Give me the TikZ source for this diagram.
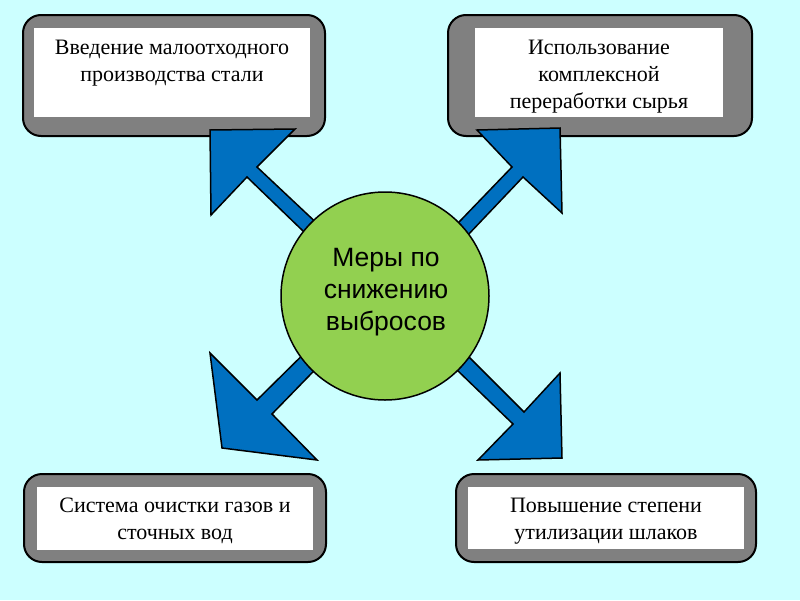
\documentclass[tikz,border=0pt]{standalone}
\usepackage{fontspec}
\setmainfont{Liberation Serif}
\newfontfamily\circfont{Liberation Sans}
\definecolor{bgc}{HTML}{CCFFFF}
\definecolor{greyc}{HTML}{808080}
\definecolor{bluec}{HTML}{0070C0}
\definecolor{greenc}{HTML}{92D050}
\tikzset{
  outerbox/.style={draw=black, line width=2pt, fill=greyc, rounded corners=18pt, inner sep=0pt},
  innerbox/.style={fill=white, draw=none, inner sep=0pt},
  boxtext/.style={anchor=north, align=center, inner sep=0pt, font=\fontsize{22}{27}\selectfont},
  blockarrow/.style={fill=bluec, draw=black, line width=1.5pt, line join=miter},
}
\begin{document}
\begin{tikzpicture}[x=1pt, y=-1pt]
\useasboundingbox[fill=bgc] (0,0) rectangle (800,600);
\coordinate (c) at (385,296);
% boxes
\node[outerbox, minimum width=302pt, minimum height=121pt] (o1) at (174,75.5) {};
\node[innerbox, minimum width=276pt, minimum height=89pt] (i1) at (172,72.5) {};
\node[boxtext] (t1) at (172,40) {Введение малоотходного\\производства стали};

\node[outerbox, minimum width=304pt, minimum height=121pt] (o2) at (600,75.5) {};
\node[innerbox, minimum width=248pt, minimum height=89pt] (i2) at (599,72.5) {};
\node[boxtext] (t2) at (599,40) {Использование\\комплексной\\переработки сырья};

\node[outerbox, minimum width=302pt, minimum height=88pt] (o3) at (175,518) {};
\node[innerbox, minimum width=276pt, minimum height=63pt] (i3) at (175,518.5) {};
\node[boxtext] (t3) at (175,498) {Система очистки газов и\\сточных вод};

\node[outerbox, minimum width=300pt, minimum height=88pt] (o4) at (606,518) {};
\node[innerbox, minimum width=276pt, minimum height=62pt] (i4) at (606,518) {};
\node[boxtext] (t4) at (606,498) {Повышение степени\\утилизации шлаков};

% block arrows
\draw[blockarrow] (340,245) -- (257,167) -- (295,129) -- (210,130) -- (211,215) -- (247,177) -- (330,257) -- cycle;
\draw[blockarrow] (435,247) -- (512,167) -- (477,130) -- (560,128) -- (562,213) -- (523,177) -- (447,257) -- cycle;
\draw[blockarrow] (330,328) -- (257,400) -- (210,353) -- (222,448) -- (317,460) -- (272,414) -- (342,342) -- cycle;
\draw[blockarrow] (440,328) -- (524,412) -- (560,373) -- (562,458) -- (478,460) -- (513,424) -- (428,342) -- cycle;

% centre
\node[circle, draw=black, line width=1.5pt, fill=greenc, minimum size=208pt, inner sep=0pt] (m) at (c) {};
\node[align=center, inner sep=0pt, font=\circfont\fontsize{26.5}{32}\selectfont] (mt) at (386,292) {Меры по\\снижению\\выбросов};
\end{tikzpicture}
\end{document}
